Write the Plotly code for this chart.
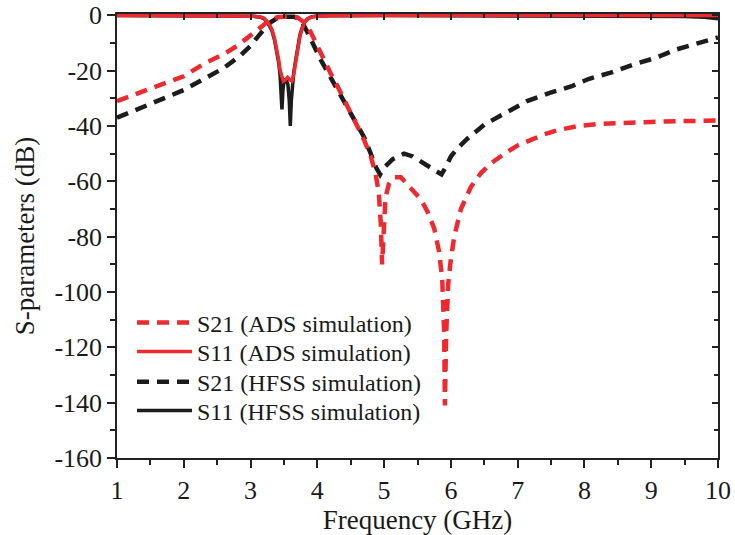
import plotly.graph_objects as go

# ---- data ----
ads_s21_f = [1.0, 1.5, 2.0, 2.3, 2.6, 2.8, 2.95, 3.1, 3.2, 3.3, 3.4, 3.55, 3.7, 3.8, 3.9,
             4.0, 4.1, 4.2, 4.3, 4.4, 4.5, 4.6, 4.7, 4.8, 4.87, 4.92, 4.95, 4.97, 4.99,
             5.02, 5.07, 5.15, 5.25, 5.35, 5.45, 5.55, 5.65, 5.75, 5.82, 5.87, 5.9, 5.91,
             5.93, 5.96, 6.0, 6.05, 6.15, 6.3, 6.45, 6.6, 6.8, 7.0, 7.2, 7.4, 7.6, 7.9,
             8.2, 8.5, 9.0, 9.5, 10.0]
ads_s21_db = [-31, -26.5, -22, -17.5, -14, -11, -8, -5, -3, -1.5, -0.7, -0.4, -0.7, -2.5, -6,
              -11, -16.5, -21, -25.5, -30.5, -35, -40, -45, -51, -57, -64, -75, -90, -78,
              -66, -61, -58.5, -58.5, -61, -63.5, -66.5, -71, -77, -85, -95, -115, -141,
              -115, -97, -88, -80, -70, -62, -57, -53.5, -50, -47, -45, -43, -41.5, -40,
              -39.3, -38.9, -38.5, -38.2, -38]

ads_s11_f = [1.0, 2.5, 2.9, 3.05, 3.15, 3.2, 3.26, 3.32, 3.36, 3.39, 3.42, 3.44, 3.47, 3.49,
             3.52, 3.555, 3.59, 3.62, 3.645, 3.67, 3.69, 3.71, 3.74, 3.77, 3.81, 3.86, 3.92,
             4.0, 4.2, 5.0, 10.0]
ads_s11_db = [0, -0.05, -0.15, -0.3, -0.6, -1, -2.5, -5, -8.5, -12, -16, -19.5, -22.5, -23.8,
              -23.3, -22.4, -23.3, -23.8, -21.5, -18, -14.5, -11, -7.5, -5, -2.5, -1.2, -0.6,
              -0.3, -0.1, -0.05, 0]

hfss_s21_f = [1.0, 1.5, 2.0, 2.3, 2.6, 2.85, 3.0, 3.15, 3.3, 3.4, 3.5, 3.65, 3.75, 3.85, 3.95,
              4.05, 4.2, 4.35, 4.5, 4.6, 4.7, 4.8, 4.88, 4.94, 5.0, 5.13, 5.3, 5.43, 5.6, 5.75,
              5.86, 5.92, 6.0, 6.1, 6.25, 6.5, 6.78, 7.14, 7.48, 7.81, 8.06, 8.38, 8.73, 9.06,
              9.38, 9.73, 10.0]
hfss_s21_db = [-37, -32, -27, -23, -19, -14.5, -11, -6.5, -2.5, -1, -0.5, -0.5, -1.5, -6, -11,
               -16, -22.5, -29, -35, -39, -44, -50, -55, -57.5, -55, -52, -50, -51, -53.5, -55.5,
               -57.5, -55, -51, -48, -44.5, -39.5, -35.8, -31, -28, -25.6, -23, -20.8, -17.8, -15.4,
               -12.3, -10, -8]

hfss_s11_f = [1.0, 2.5, 2.9, 3.05, 3.15, 3.2, 3.26, 3.32, 3.36, 3.39, 3.42, 3.44, 3.455, 3.47,
              3.485, 3.5, 3.53, 3.56, 3.58, 3.595, 3.61, 3.625, 3.645, 3.67, 3.69, 3.71, 3.74,
              3.77, 3.81, 3.86, 3.92, 4.0, 4.2, 5.0, 8.0, 9.0, 9.5, 9.8, 10.0]
hfss_s11_db = [0, -0.05, -0.15, -0.35, -0.7, -1.2, -2.8, -5.5, -9, -12.5, -17, -21, -26, -34,
               -27, -24, -23, -25, -31, -40, -31, -25, -21, -17, -13.5, -10.5, -7,
               -4.7, -2.3, -1.1, -0.5, -0.25, -0.1, -0.05, -0.1, -0.2, -0.4, -0.7, -1.2]

x_ticks = [1, 2, 3, 4, 5, 6, 7, 8, 9, 10]
x_ticklabels = ["1", "2", "3", "4", "5", "6", "7", "8", "9", "10"]
y_ticks = [-160, -140, -120, -100, -80, -60, -40, -20, 0]
y_ticklabels = ["-160", "-140", "-120", "-100", "-80", "-60", "-40", "-20", "0"]

RED = "#ec2a2f"
BLACK = "#1c1c1c"
FONT = "Liberation Serif, Times New Roman, serif"

fig = go.Figure()

fig.add_trace(go.Scatter(x=hfss_s21_f, y=hfss_s21_db, mode="lines", name="S21 (HFSS simulation)",
                         line=dict(color=BLACK, width=4.5, dash="12px,8px"), legend="legend3"))
fig.add_trace(go.Scatter(x=hfss_s11_f, y=hfss_s11_db, mode="lines", name="S11 (HFSS simulation)",
                         line=dict(color=BLACK, width=3.5), legend="legend4"))
fig.add_trace(go.Scatter(x=ads_s21_f, y=ads_s21_db, mode="lines", name="S21 (ADS simulation)",
                         line=dict(color=RED, width=4.5, dash="12px,8px"), legend="legend"))
fig.add_trace(go.Scatter(x=ads_s11_f, y=ads_s11_db, mode="lines", name="S11 (ADS simulation)",
                         line=dict(color=RED, width=3.5), legend="legend2"))
# empty trace to activate mirrored (top/right) axes
fig.add_trace(go.Scatter(x=[], y=[], xaxis="x2", yaxis="y2", showlegend=False, hoverinfo="skip"))

axis_common = dict(showline=True, linecolor="#222222", linewidth=1.5, showgrid=False,
                   zeroline=False, tickcolor="#222222", tickwidth=1.5, automargin=False)


def leg(ypos):
    return dict(x=0.025, y=ypos, xanchor="left", yanchor="middle", bgcolor="rgba(0,0,0,0)",
                borderwidth=0, font=dict(size=24, family=FONT, color="#1a1a1a"),
                itemwidth=55)


fig.update_layout(
    width=735, height=535,
    margin=dict(l=117, r=17, t=14, b=77, autoexpand=False),
    paper_bgcolor="white", plot_bgcolor="white",
    font=dict(family=FONT, color="#1a1a1a"),
    xaxis=dict(range=[1, 10], tickvals=x_ticks, ticktext=x_ticklabels, ticks="outside",
               ticklen=8, minor=dict(ticks="outside", ticklen=5, dtick=0.5, tick0=1,
                                     tickcolor="#222222", tickwidth=1.5),
               tickfont=dict(size=26, family=FONT),
               title=dict(text="Frequency (GHz)", font=dict(size=27, family=FONT), standoff=0),
               **axis_common),
    yaxis=dict(range=[-160, 0.5], tickvals=y_ticks, ticktext=y_ticklabels, ticks="outside",
               ticklen=8, minor=dict(ticks="outside", ticklen=5, dtick=10, tick0=0,
                                     tickcolor="#222222", tickwidth=1.5),
               tickfont=dict(size=26, family=FONT),
               title=dict(text="S-parameters (dB)", font=dict(size=27, family=FONT), standoff=12),
               **axis_common),
    xaxis2=dict(overlaying="x", side="top", anchor="y", range=[1, 10], tickvals=x_ticks,
                showticklabels=False, ticks="inside", ticklen=6,
                minor=dict(ticks="inside", ticklen=4, dtick=0.5, tick0=1,
                           tickcolor="#222222", tickwidth=1.5), **axis_common),
    yaxis2=dict(overlaying="y", side="right", anchor="x", range=[-160, 0.5], tickvals=y_ticks,
                showticklabels=False, ticks="inside", ticklen=6,
                minor=dict(ticks="inside", ticklen=4, dtick=10, tick0=0,
                           tickcolor="#222222", tickwidth=1.5), **axis_common),
    legend=leg(0.304),
    legend2=leg(0.239),
    legend3=leg(0.171),
    legend4=leg(0.106),
    showlegend=True,
)

fig.write_html("out.html", config={"displayModeBar": False},
               post_script="document.body.style.margin='0';document.body.style.overflow='hidden';")
